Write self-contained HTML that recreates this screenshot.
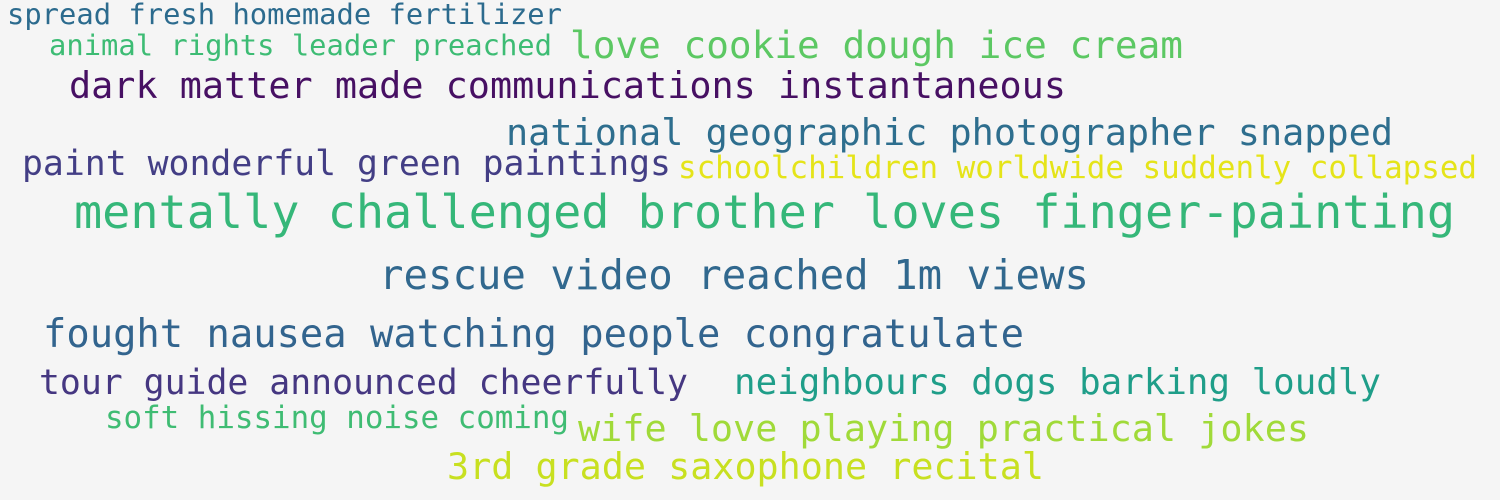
<!DOCTYPE html>
<html><head><meta charset="utf-8"><style>
html,body{margin:0;padding:0;background:#f5f5f5;}
svg{display:block;}
text{font-family:"DejaVu Sans Mono","Liberation Mono",monospace;}
</style></head><body>
<svg id="cloud" width="1500" height="500" viewBox="0 0 1500 500" xmlns="http://www.w3.org/2000/svg">
<rect width="1500" height="500" fill="#f5f5f5"/>
</svg>
<script>
const phrases = ["spread fresh homemade fertilizer","animal rights leader preached","love cookie dough ice cream","dark matter made communications instantaneous","national geographic photographer snapped","paint wonderful green paintings","schoolchildren worldwide suddenly collapsed","mentally challenged brother loves finger-painting","rescue video reached 1m views","fought nausea watching people congratulate","tour guide announced cheerfully","neighbours dogs barking loudly","soft hissing noise coming","wife love playing practical jokes","3rd grade saxophone recital"];
const weights = [28.8,28.8,37.7,36.8,36.8,34.8,30.9,45.9,40.7,38.8,34.8,35.8,30.8,36.8,36.7];
const colors = ["#2c6b8e","#3dbc74","#5cc863","#471063","#2e6e8e","#433e85","#e5e419","#35b779","#31688e","#32648e","#453781","#1f9e89","#3fbc73","#a0da39","#c8e020"];
const layout = [[7,24,555],[49,55,503],[570,58,613],[69,98,997],[506,145,887],[22,175,649],[678,178,799],[74,228,1381],[379,289,710],[43,347,981],[39,394,649],[734,394,647],[105,428,464],[578,441,731],[447,479,597]];
const svg = document.getElementById('cloud');
phrases.forEach((p,i)=>{
  const t = document.createElementNS('http://www.w3.org/2000/svg','text');
  t.setAttribute('x', layout[i][0]);
  t.setAttribute('y', layout[i][1]);
  t.setAttribute('font-size', weights[i]);
  t.setAttribute('fill', colors[i]);
  t.setAttribute('textLength', layout[i][2]);
  t.setAttribute('lengthAdjust', 'spacingAndGlyphs');
  t.textContent = p;
  
  
  svg.appendChild(t);
});
</script>
</body></html>
